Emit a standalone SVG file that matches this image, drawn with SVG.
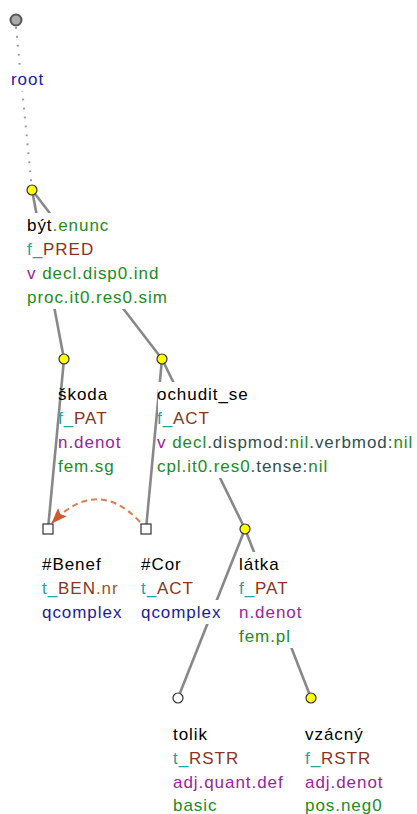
<svg xmlns="http://www.w3.org/2000/svg" width="417" height="814" viewBox="0 0 417 814">
<style>
text{font-family:"Liberation Sans",Arial,sans-serif;font-size:17px;letter-spacing:0.95px;fill:#000}
.bg{fill:#fff}
.e{stroke:#888;stroke-width:2.6;fill:none}
.dot{stroke:#999;stroke-width:2;stroke-dasharray:1.8 7.2;fill:none}
.cor{stroke:#dc7f55;stroke-width:2;stroke-dasharray:6 4;fill:none}
.y{fill:#ffff00;stroke:#333;stroke-width:1.2}
.w{fill:#fff;stroke:#333;stroke-width:1.2}
.gn{fill:#228b22}
.ds{fill:#2f4f4f}
.tl{fill:#22a3a3}
.br{fill:#8b3322}
.si{fill:#a0522d}
.pu{fill:#a020a0}
.bl{fill:#1c1ca0}
</style>
<defs>
<marker id="arr" markerUnits="userSpaceOnUse" viewBox="0 0 16 12" refX="15" refY="6" markerWidth="16" markerHeight="12" orient="auto">
<path d="M0,0 L16,6 L0,12 L3,6 z" fill="#cc5a2c"/>
</marker>
</defs>
<g id="connectors">
<line class="dot" x1="16" y1="27" x2="32" y2="190"/>
<line class="e" x1="32" y1="190" x2="64" y2="359"/>
<line class="e" x1="32" y1="190" x2="162" y2="359"/>
<line class="e" x1="64" y1="359" x2="48" y2="529"/>
<line class="e" x1="162" y1="359" x2="146" y2="529"/>
<line class="e" x1="162" y1="359" x2="245" y2="529"/>
<line class="e" x1="245" y1="529" x2="178" y2="698"/>
<line class="e" x1="245" y1="529" x2="311" y2="698"/>
<path class="cor" d="M140,522 Q97,476 52,523" marker-end="url(#arr)"/>
</g>
<g id="n-root">
<rect class="bg" x="12" y="68" width="33" height="23"/>
<circle cx="16" cy="20" r="5.5" fill="#aaa" stroke="#555" stroke-width="2"/>
<text x="11" y="85" class="bl">root</text>
</g>
<g id="n-byt">
<rect class="bg" x="28" y="213" width="82" height="96"/>
<rect class="bg" x="95" y="261" width="72" height="48"/>
<circle class="y" cx="32" cy="190" r="5"/>
<text x="27" y="231">být<tspan class="gn">.enunc</tspan></text>
<text x="27" y="255"><tspan class="tl">f_</tspan><tspan class="br">PRED</tspan></text>
<text x="27" y="279"><tspan class="pu">v</tspan><tspan class="gn"> decl.disp0.ind</tspan></text>
<text x="27" y="303" class="gn">proc.it0.res0.sim</text>
</g>
<g id="n-skoda">
<circle class="y" cx="64" cy="359" r="5"/>
<text x="58" y="400">škoda</text>
<text x="58" y="424"><tspan class="tl">f_</tspan><tspan class="br">PAT</tspan></text>
<text x="58" y="448" class="pu">n.denot</text>
<text x="58" y="472" class="gn">fem.sg</text>
</g>
<g id="n-ochudit">
<rect class="bg" x="158" y="382" width="92" height="96"/>
<rect class="bg" x="250" y="430" width="76" height="48"/>
<circle class="y" cx="162" cy="359" r="5"/>
<text x="157" y="400">ochudit_se</text>
<text x="157" y="424"><tspan class="tl">f_</tspan><tspan class="br">ACT</tspan></text>
<text x="157" y="448"><tspan class="pu">v</tspan><tspan class="gn"> decl</tspan><tspan class="ds">.dispmod:</tspan><tspan class="gn">nil</tspan><tspan class="ds">.verbmod:</tspan><tspan class="gn">nil</tspan></text>
<text x="157" y="472"><tspan class="gn">cpl.it0.res0</tspan><tspan class="ds">.tense:</tspan><tspan class="gn">nil</tspan></text>
</g>
<g id="n-benef">
<rect class="w" x="43" y="524" width="10" height="10"/>
<text x="42" y="570">#Benef</text>
<text x="42" y="594"><tspan class="tl">t_</tspan><tspan class="br">BEN</tspan><tspan class="si">.nr</tspan></text>
<text x="42" y="618" class="bl">qcomplex</text>
</g>
<g id="n-cor">
<rect class="bg" x="142" y="600" width="80" height="24"/>
<rect class="w" x="141" y="524" width="10" height="10"/>
<text x="141" y="570">#Cor</text>
<text x="141" y="594"><tspan class="tl">t_</tspan><tspan class="br">ACT</tspan></text>
<text x="141" y="618" class="bl">qcomplex</text>
</g>
<g id="n-latka">
<rect class="bg" x="240" y="552" width="62" height="96"/>
<circle class="y" cx="245" cy="529" r="5"/>
<text x="239" y="570">látka</text>
<text x="239" y="594"><tspan class="tl">f_</tspan><tspan class="br">PAT</tspan></text>
<text x="239" y="618" class="pu">n.denot</text>
<text x="239" y="642" class="gn">fem.pl</text>
</g>
<g id="n-tolik">
<circle class="w" cx="178" cy="698" r="5"/>
<text x="173" y="740">tolik</text>
<text x="173" y="764"><tspan class="tl">t_</tspan><tspan class="br">RSTR</tspan></text>
<text x="173" y="788" class="pu">adj.quant.def</text>
<text x="173" y="811" class="gn">basic</text>
</g>
<g id="n-vzacny">
<circle class="y" cx="311" cy="698" r="5"/>
<text x="305" y="740">vzácný</text>
<text x="305" y="764"><tspan class="tl">f_</tspan><tspan class="br">RSTR</tspan></text>
<text x="305" y="788" class="pu">adj.denot</text>
<text x="305" y="811" class="gn">pos.neg0</text>
</g>
</svg>
